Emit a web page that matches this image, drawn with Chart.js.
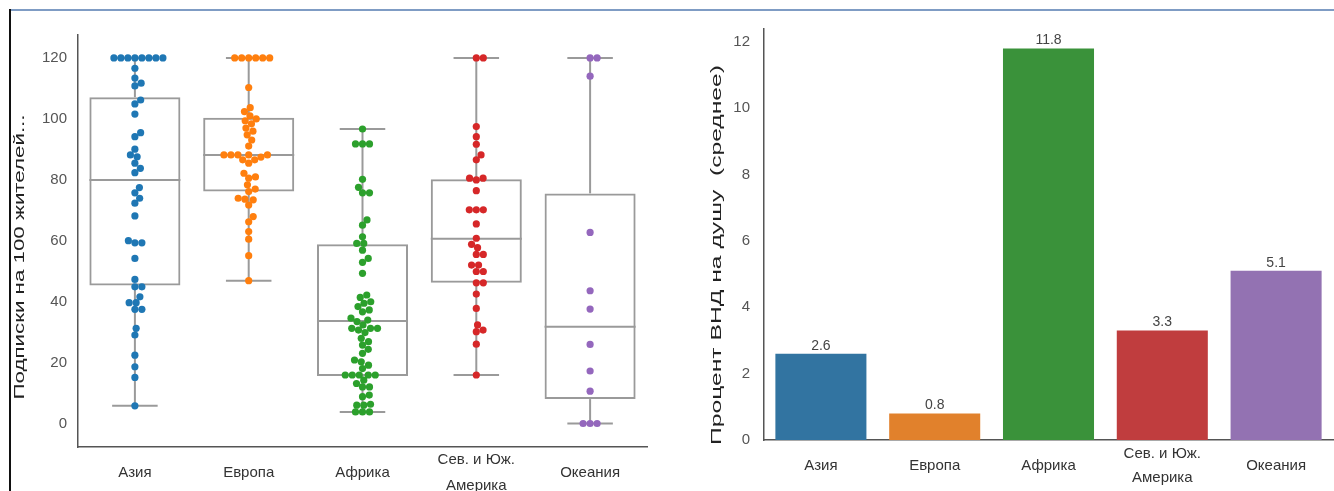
<!DOCTYPE html>
<html>
<head>
<meta charset="utf-8">
<script src="https://cdn.jsdelivr.net/npm/chart.js@4.4.1/dist/chart.umd.min.js"></script>
<style>
  html, body { margin: 0; padding: 0; background: #fff; }
  #wrap { position: relative; width: 1334px; height: 491px; overflow: hidden; }
  #frameTop { position: absolute; left: 10px; top: 9px; width: 1324px; height: 2px; background: #7f9cc4; }
  #frameLeft { position: absolute; left: 9px; top: 9px; width: 2px; height: 482px; background: #111; }
  #left { position: absolute; left: 0; top: 0; }
  #right { position: absolute; left: 667px; top: 0; }
</style>
</head>
<body>
<div id="wrap">
  <canvas id="left" width="667" height="491"></canvas>
  <canvas id="right" width="667" height="491"></canvas>
  <div id="frameTop"></div>
  <div id="frameLeft"></div>
</div>
<script>
// regions
const categories = ["Азия", "Европа", "Африка", "Сев. и Юж. Америка", "Океания"];
const tickLabels = [["Азия"], ["Европа"], ["Африка"], ["Сев. и Юж.", "Америка"], ["Океания"]];
const subsTicks = [0, 20, 40, 60, 80, 100, 120];
const gniTicks = [0, 2, 4, 6, 8, 10, 12];

// subscriptions per 100 inhabitants, one array per region
const asiaSubs = [120, 120, 120, 120, 120, 120, 120, 120, 116.6, 113.4, 111.7, 110.8, 106.2, 104.9, 101.6,
  95.5, 94.2, 90.1, 88.2, 87.6, 85.5, 83.8, 82.4, 77.5, 75.8, 74, 72.4, 68.2, 60.1, 59.4, 59.4, 54.3,
  47.4, 45, 45, 41.7, 39.8, 39.8, 37.6, 37.6, 31.4, 29.2, 22.6, 18.8, 15.3, 6];
const europeSubs = [120, 120, 120, 120, 120, 120, 110.3, 103.7, 102.4, 101, 100, 99.4, 98.4, 97, 96, 94.8,
  93.1, 91.1, 88.2, 88.2, 88.2, 88.2, 88.2, 87.5, 86.6, 86.6, 85.5, 82.2, 81, 80.6, 78.4, 77, 76.2, 74,
  73.7, 73.5, 71.8, 68, 66.3, 63.1, 60.6, 55.2, 47];
const africaSubs = [96.7, 91.8, 91.8, 91.8, 80.2, 77.6, 75.8, 75.8, 66.9, 65.2, 61.4, 59.2, 59.2, 57, 54.3,
  53, 49.4, 42.3, 41.5, 40.1, 39.6, 38.5, 37.4, 36.8, 34.7, 34.1, 33.6, 32.5, 31.4, 31.4, 31.4, 30.8, 30,
  28.1, 27, 25.9, 24.5, 23.2, 21, 20.4, 19.3, 18.2, 16.1, 16.1, 16.1, 16.1, 16.1, 14.4, 13.3, 12.2, 12.2,
  9.5, 9, 6.5, 6.2, 6.2, 4, 4, 4];
const americasSubs = [120, 120, 97.5, 94.2, 91.7, 88.2, 86.6, 80.6, 80.6, 80, 76.5, 70.2, 70.2, 70.2, 65.6,
  60.9, 58.9, 57.8, 55.6, 55.6, 52.1, 52.1, 50, 50, 46.3, 46.3, 42.6, 37.9, 32.5, 30.8, 30.3, 26.2, 16.1];
const oceaniaSubs = [120, 120, 114, 62.8, 43.7, 37.7, 26.1, 17.4, 10.8, 0.2, 0.2, 0.2];

// box statistics as drawn
const boxQ1 = [45.4, 76.2, 15.8, 46.3, 8.2];
const boxMedian = [80, 88.2, 33.8, 60.7, 31.9];
const boxQ3 = [107.1, 100.4, 58.9, 80.2, 75.6];
const whiskerLow = [6, 47, 4, 16.1, 0.2];
const whiskerHigh = [120, 120, 96.7, 120, 120];

// GNI percent per capita (mean)
const gniPercent = [2.6, 0.8, 11.8, 3.3, 5.1];

const pointColors = ["#1f77b4", "#ff7f0e", "#2ca02c", "#d62728", "#9467bd"];
const barColors = ["#3274a1", "#e1812c", "#3a923a", "#c03d3e", "#9372b2"];
const boxColor = "#9a9a9a";
const axisColor = "#555";
const fontFamily = "'Liberation Sans', Arial, sans-serif";

Chart.defaults.font.family = fontFamily;
Chart.defaults.animation = false;

const setTicks = (values) => (axis) => {
  axis.ticks = values.map((v) => ({ value: v }));
};

// simple beeswarm in pixel space, points placed from low to high value
const swarm = (ys, d) => {
  const idx = ys.map((_, i) => i).sort((a, b) => ys[b] - ys[a]);
  const placed = [];
  const out = [];
  idx.forEach((i) => {
    let x = 0;
    for (let k = 0; k < 600; k++) {
      const cands = k === 0 ? [0] : [k * 0.25, -k * 0.25];
      const ok = cands.find((c) => placed.every((p) => Math.hypot(p.x - c, p.y - ys[i]) >= d - 0.01));
      if (ok !== undefined) { x = ok; break; }
    }
    placed.push({ x, y: ys[i] });
    out[i] = x;
  });
  return out;
};

// rotated axis title, stretched along its length like the source image
const sideTitle = (text, cx, cy, len) => ({
  id: "sideTitle",
  afterDraw(chart) {
    const { ctx } = chart;
    ctx.save();
    ctx.font = "15px " + fontFamily;
    ctx.fillStyle = "#222";
    ctx.textAlign = "center";
    ctx.textBaseline = "middle";
    const w = ctx.measureText(text).width;
    ctx.translate(cx, cy);
    ctx.rotate(-Math.PI / 2);
    ctx.scale(len / w, 1);
    ctx.fillText(text, 0, 0);
    ctx.restore();
  },
});

const whiskerPlugin = {
  id: "whiskers",
  beforeDatasetsDraw(chart) {
    const { ctx, scales: { x, y } } = chart;
    const line = (x0, y0, x1, y1) => {
      ctx.beginPath(); ctx.moveTo(x0, y0); ctx.lineTo(x1, y1); ctx.stroke();
    };
    ctx.save();
    ctx.strokeStyle = boxColor;
    ctx.lineWidth = 2;
    categories.forEach((c, i) => {
      const cx = x.getPixelForValue(i);
      line(cx, y.getPixelForValue(whiskerLow[i]), cx, y.getPixelForValue(boxQ1[i]));
      line(cx, y.getPixelForValue(boxQ3[i]), cx, y.getPixelForValue(whiskerHigh[i]));
      line(x.getPixelForValue(i - 0.2), y.getPixelForValue(whiskerLow[i]), x.getPixelForValue(i + 0.2), y.getPixelForValue(whiskerLow[i]));
      line(x.getPixelForValue(i - 0.2), y.getPixelForValue(whiskerHigh[i]), x.getPixelForValue(i + 0.2), y.getPixelForValue(whiskerHigh[i]));
      line(x.getPixelForValue(i - 0.4), y.getPixelForValue(boxMedian[i]), x.getPixelForValue(i + 0.4), y.getPixelForValue(boxMedian[i]));
    });
    ctx.restore();
  },
};

const subsByRegion = [asiaSubs, europeSubs, africaSubs, americasSubs, oceaniaSubs];

const swarmSets = subsByRegion.map((vals, i) => ({
  type: "scatter",
  xAxisID: "xs",
  yAxisID: "y",
  cat: i,
  raw: vals,
  data: vals.map((v) => ({ x: i, y: v })),
  backgroundColor: pointColors[i],
  borderWidth: 0,
  pointRadius: 3.6,
  order: 0,
}));

const leftChart = new Chart(document.getElementById("left"), {
  type: "bar",
  data: {
    labels: tickLabels,
    datasets: [
      {
        type: "bar",
        xAxisID: "x",
        yAxisID: "y",
        data: boxQ1.map((q, i) => [q, boxQ3[i]]),
        backgroundColor: "rgba(0,0,0,0)",
        borderColor: boxColor,
        borderWidth: 2,
        borderSkipped: false,
        grouped: false,
        barPercentage: 0.8,
        categoryPercentage: 1,
        order: 10,
      },
      ...swarmSets,
    ],
  },
  options: {
    responsive: false,
    layout: { padding: { left: 11, top: 35, right: 20, bottom: 0 } },
    plugins: { legend: { display: false }, tooltip: { enabled: false } },
    scales: {
      x: {
        type: "category",
        offset: true,
        grid: { display: false },
        border: { display: true, color: axisColor, width: 1.5 },
        ticks: {
          color: "#333",
          padding: 5,
          crossAlign: "center",
          maxRotation: 0,
          font: { size: 15, lineHeight: 1.7 },
        },
        afterFit: (s) => { s.height = 44; },
      },
      xs: { type: "linear", display: false, offset: false, min: -0.5, max: 4.5 },
      y: {
        min: -7.5,
        max: 127.5,
        ticks: { color: "#555", padding: 3, font: { size: 15 } },
        afterBuildTicks: setTicks(subsTicks),
        grid: { display: false },
        border: { display: true, color: axisColor, width: 1.5 },
        afterFit: (s) => { s.width = 67; },
      },
    },
  },
  plugins: [whiskerPlugin, sideTitle("Подписки на 100 жителей...", 20, 257, 285)],
});

// spread the swarm points using the chart's own scales
const placeSwarm = (chart) => {
  const xs = chart.scales.xs;
  const y = chart.scales.y;
  const pxPerUnit = xs.getPixelForValue(1) - xs.getPixelForValue(0);
  chart.data.datasets.forEach((ds) => {
    if (ds.type !== "scatter") return;
    const offs = swarm(ds.raw.map((v) => y.getPixelForValue(v)), 6.8);
    ds.data = ds.raw.map((v, i) => ({ x: ds.cat + offs[i] / pxPerUnit, y: v }));
  });
  chart.update("none");
};
placeSwarm(leftChart);

const barLabelPlugin = {
  id: "barLabels",
  afterDatasetsDraw(chart) {
    const { ctx } = chart;
    const meta = chart.getDatasetMeta(0);
    ctx.save();
    ctx.fillStyle = "#444";
    ctx.font = "14px " + fontFamily;
    ctx.textAlign = "center";
    ctx.textBaseline = "bottom";
    meta.data.forEach((bar, i) => {
      ctx.fillText(gniPercent[i].toFixed(1), bar.x, bar.y - 1);
    });
    ctx.restore();
  },
};

new Chart(document.getElementById("right"), {
  type: "bar",
  data: {
    labels: tickLabels,
    datasets: [
      {
        data: gniPercent,
        backgroundColor: barColors,
        borderWidth: 0,
        barPercentage: 0.8,
        categoryPercentage: 1,
      },
    ],
  },
  options: {
    responsive: false,
    layout: { padding: { left: 41, top: 29, right: 1, bottom: 0 } },
    plugins: { legend: { display: false }, tooltip: { enabled: false } },
    scales: {
      x: {
        grid: { display: false },
        border: { display: true, color: axisColor, width: 1.5 },
        ticks: {
          color: "#333",
          padding: 6,
          crossAlign: "center",
          maxRotation: 0,
          font: { size: 15, lineHeight: 1.6 },
        },
        afterFit: (s) => { s.height = 51; },
      },
      y: {
        min: 0,
        max: 12.39,
        ticks: { color: "#555", padding: 6, font: { size: 15 } },
        afterBuildTicks: setTicks(gniTicks),
        grid: { display: false },
        border: { display: true, color: axisColor, width: 1.5 },
        afterFit: (s) => { s.width = 56; },
      },
    },
  },
  plugins: [barLabelPlugin, sideTitle("Процент ВНД на душу  (среднее)", 50, 255, 380)],
});
</script>
</body>
</html>
